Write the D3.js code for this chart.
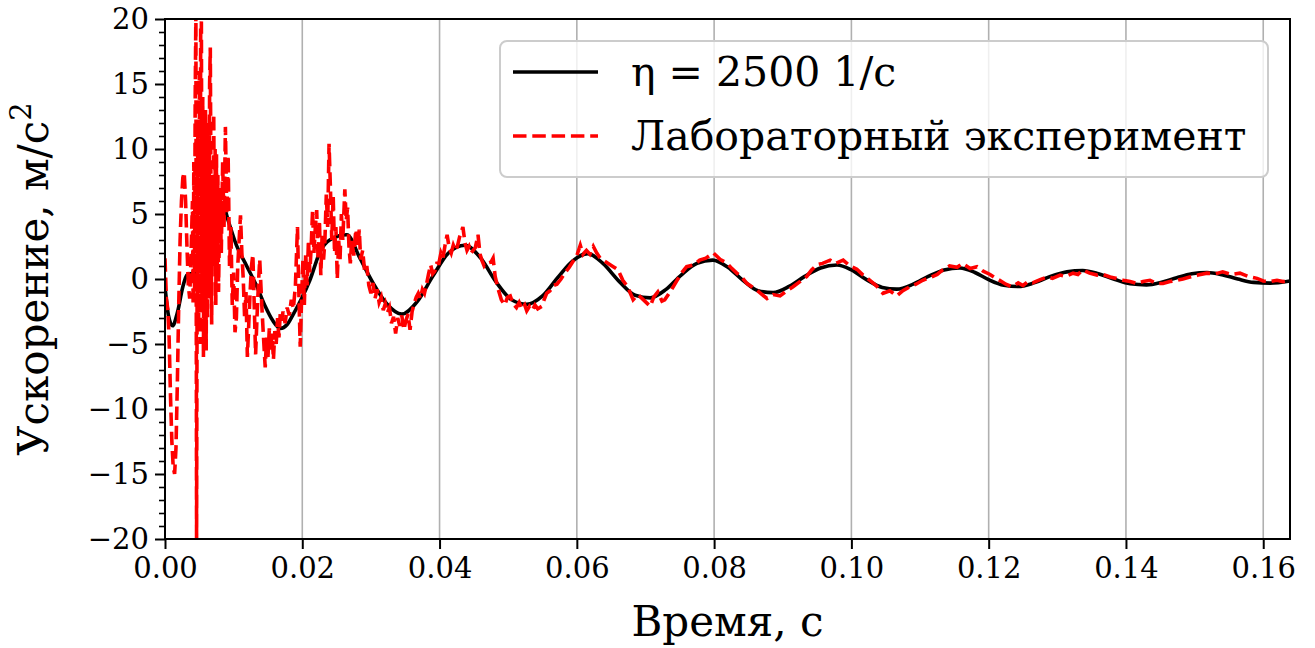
<!DOCTYPE html>
<html>
<head>
<meta charset="utf-8">
<script src="https://cdn.jsdelivr.net/npm/d3@7"></script>
<style>
  html, body { margin: 0; padding: 0; background: #fff; }
  svg { display: block; }
</style>
</head>
<body>
<div id="chart"></div>
<script>

const xTicks = [0, 0.02, 0.04, 0.06, 0.08, 0.10, 0.12, 0.14, 0.16]
const yTicks = [-20, -15, -10, -5, 0, 5, 10, 15, 20]
const legendLabels = ["η = 2500 1/с", "Лабораторный эксперимент"]

// [время, с ; ускорение, м/с²]
const modelPoints = [
  [0, -0.6], [0.0005, -2.8], [0.0011, -3.6], [0.0018, -2.6], [0.0026, -0.6], [0.0032, 0.3],
  [0.0045, 0.5], [0.0060, 0.8], [0.0072, 1.3], [0.0074, 3.6], [0.0078, 4.4], [0.0085, 5.6],
  [0.0092, 4.5], [0.0104, 2.6], [0.0119, 1.0], [0.0134, -0.6], [0.0146, -2.1], [0.0157, -3.2],
  [0.0168, -3.8], [0.0178, -3.5], [0.0187, -2.7], [0.0199, -1.5], [0.0211, -0.1], [0.0226, 2.1],
  [0.0240, 3.0], [0.0265, 3.4], [0.0284, 1.6], [0.0303, -0.3], [0.0323, -1.9], [0.0345, -2.7],
  [0.0368, -1.7], [0.0390, 0.2], [0.0413, 2.0], [0.0437, 2.6], [0.0460, 1.6], [0.0482, -0.2],
  [0.0505, -1.6], [0.0527, -1.95], [0.0550, -1.3], [0.0572, 0.1], [0.0594, 1.4], [0.0616, 1.95],
  [0.0638, 1.2], [0.0662, -0.2], [0.0685, -1.25], [0.0707, -1.45], [0.0730, -0.8], [0.0752, 0.3],
  [0.0775, 1.2], [0.0798, 1.45], [0.0820, 0.9], [0.0842, -0.1], [0.0864, -0.9], [0.0886, -1.05],
  [0.0910, -0.55], [0.0932, 0.2], [0.0955, 0.85], [0.0979, 1.08], [0.1000, 0.7], [0.1022, -0.05],
  [0.1045, -0.65], [0.1066, -0.78], [0.1090, -0.4], [0.1112, 0.2], [0.1135, 0.7], [0.1158, 0.85],
  [0.1180, 0.5], [0.1200, -0.05], [0.1222, -0.48], [0.1243, -0.58], [0.1266, -0.3], [0.1290, 0.2],
  [0.1314, 0.55], [0.1337, 0.65], [0.1360, 0.4], [0.1383, -0.02], [0.1406, -0.37], [0.1430, -0.45],
  [0.1452, -0.25], [0.1474, 0.1], [0.1496, 0.4], [0.1518, 0.5], [0.1540, 0.33], [0.1563, 0.0],
  [0.1586, -0.26], [0.1610, -0.32], [0.1639, -0.15],
]

const expPoints = [
  [0.0000, 1.6], [0.0002, -1.5], [0.0004, -2.3], [0.0006, -4.5], [0.0008, -9.0], [0.0010, -12.5],
  [0.0012, -14.5], [0.0014, -15.0], [0.0016, -13.0], [0.0018, -8.0], [0.0020, -2.0], [0.0022, 3.0],
  [0.0024, 6.0], [0.0026, 7.8], [0.0028, 8.2], [0.0030, 6.0], [0.0032, 2.5], [0.0034, -0.5],
  [0.0036, -1.5], [0.0038, 2.0], [0.0040, 6.0], [0.0041, -2.0], [0.0042, 9.0], [0.0043, -1.0],
  [0.0044, 14.0], [0.0045, 20.5], [0.0046, -20.5], [0.0047, 5.0], [0.0048, 12.0], [0.0049, -4.0],
  [0.0050, 16.0], [0.0051, -5.0], [0.0052, 19.5], [0.0053, 19.8], [0.0054, -2.0], [0.0055, 14.0],
  [0.0056, -6.0], [0.0057, 10.0], [0.0058, -4.0], [0.0059, 13.0], [0.0060, -5.5], [0.0061, 9.0],
  [0.0062, -3.0], [0.0063, 12.0], [0.0064, -1.5], [0.0065, 15.0], [0.0066, 17.8], [0.0067, 6.0],
  [0.0068, -3.5], [0.0069, 8.0], [0.0070, 1.0], [0.0071, 12.7], [0.0072, 3.0], [0.0073, 10.0],
  [0.0074, -2.0], [0.0075, 9.6], [0.0076, 0.5], [0.0077, 8.0], [0.0078, -1.0], [0.0080, 7.0],
  [0.0082, 2.0], [0.0084, 9.0], [0.0086, 4.0], [0.0088, 11.7], [0.0090, 5.0], [0.0092, 9.5],
  [0.0094, 1.0], [0.0096, 4.0], [0.0098, -2.0], [0.0100, 0.5], [0.0102, -4.1], [0.0104, -3.0],
  [0.0106, 1.0], [0.0108, 3.0], [0.0110, 4.9], [0.0112, 2.0], [0.0114, 0.0], [0.0116, -3.0],
  [0.0118, -1.0], [0.0120, -6.0], [0.0122, -3.5], [0.0124, -1.0], [0.0126, 1.0], [0.0128, 1.9],
  [0.0130, -2.0], [0.0132, -5.8], [0.0134, -3.0], [0.0136, -0.5], [0.0138, 1.5], [0.0141, -2.0],
  [0.0143, -4.0], [0.0146, -6.8], [0.0148, -4.5], [0.0150, -6.0], [0.0152, -3.8], [0.0154, -5.5],
  [0.0156, -4.2], [0.0158, -6.2], [0.0160, -4.0], [0.0162, -5.0], [0.0164, -3.0], [0.0166, -4.5],
  [0.0168, -2.6], [0.0170, -3.2], [0.0172, -2.5], [0.0175, -3.4], [0.0178, -2.2], [0.0181, -2.8],
  [0.0184, -1.6], [0.0187, -2.3], [0.0190, -0.5], [0.0193, 4.0], [0.0195, -1.0], [0.0197, -5.2],
  [0.0199, -1.5], [0.0201, 1.5], [0.0203, -2.0], [0.0205, 2.0], [0.0207, -0.5], [0.0209, 3.0],
  [0.0211, 0.5], [0.0213, 2.5], [0.0215, 5.3], [0.0217, 2.0], [0.0219, 4.0], [0.0221, 5.3],
  [0.0223, 1.5], [0.0225, 4.5], [0.0227, 0.3], [0.0229, 3.5], [0.0231, 1.5], [0.0233, 3.0],
  [0.0235, 6.5], [0.0237, 4.0], [0.0239, 10.4], [0.0241, 7.0], [0.0243, 3.0], [0.0245, 6.5],
  [0.0247, 2.0], [0.0249, 4.0], [0.0251, 0.0], [0.0253, 3.0], [0.0255, 1.5], [0.0257, 5.0],
  [0.0259, 3.0], [0.0262, 6.9], [0.0264, 4.5], [0.0266, 5.5], [0.0268, 2.5], [0.0270, 1.2],
  [0.0272, 3.0], [0.0275, 1.8], [0.0278, 3.8], [0.0281, 2.5], [0.0283, 3.8], [0.0285, 1.5],
  [0.0288, 2.2], [0.0291, 0.5], [0.0294, 1.0], [0.0297, -0.5], [0.0300, -1.1], [0.0303, -0.3],
  [0.0306, -1.5], [0.0309, -0.8], [0.0312, -1.8], [0.0315, -1.4], [0.0318, -2.4], [0.0321, -1.9],
  [0.0324, -2.6], [0.0327, -2.2], [0.0330, -3.4], [0.0333, -2.9], [0.0336, -4.2], [0.0339, -3.0],
  [0.0342, -3.6], [0.0345, -2.8], [0.0348, -3.9], [0.0351, -3.2], [0.0354, -2.7], [0.0357, -3.9],
  [0.0360, -2.5], [0.0363, -1.9], [0.0366, -1.4], [0.0369, -1.1], [0.0372, -1.5], [0.0375, -0.8],
  [0.0378, -1.1], [0.0381, -0.4], [0.0384, 0.4], [0.0387, 1.1], [0.0390, 0.4], [0.0393, 0.6],
  [0.0396, 1.2], [0.0399, 1.2], [0.0402, 2.0], [0.0405, 1.6], [0.0408, 2.6], [0.0411, 3.4],
  [0.0414, 2.4], [0.0417, 2.0], [0.0420, 2.6], [0.0423, 2.2], [0.0426, 2.5], [0.0429, 3.2],
  [0.0434, 4.0], [0.0437, 2.8], [0.0440, 2.2], [0.0443, 2.5], [0.0446, 2.0], [0.0452, 2.4],
  [0.0456, 3.4], [0.0459, 1.9], [0.0462, 1.4], [0.0465, 1.0], [0.0468, 1.2], [0.0475, 1.3],
  [0.0478, 1.6], [0.0481, 0.2], [0.0485, -0.7], [0.0490, -1.6], [0.0495, -2.0], [0.0499, -1.4],
  [0.0503, -1.3], [0.0507, -1.9], [0.0512, -2.2], [0.0516, -1.8], [0.0520, -2.3], [0.0524, -2.0],
  [0.0527, -2.45], [0.0531, -2.1], [0.0535, -2.4], [0.0539, -2.0], [0.0543, -2.3], [0.0549, -2.1],
  [0.0553, -1.5], [0.0556, -1.1], [0.0561, -0.9], [0.0566, -0.5], [0.0571, -0.4], [0.0577, 0.0],
  [0.0583, 0.5], [0.0589, 0.9], [0.0595, 1.4], [0.0600, 1.8], [0.0605, 2.6], [0.0609, 1.9],
  [0.0614, 2.2], [0.0619, 1.9], [0.0624, 2.5], [0.0629, 2.0], [0.0634, 1.6], [0.0653, 0.95],
  [0.0660, 0.7], [0.0667, -0.1], [0.0674, -0.6], [0.0682, -1.6], [0.0689, -1.2], [0.0696, -1.55],
  [0.0707, -2.1], [0.0712, -1.4], [0.0718, -1.0], [0.0724, -1.7], [0.0728, -1.6], [0.0737, -0.9],
  [0.0746, -0.1], [0.0753, 0.5], [0.0760, 0.95], [0.0771, 1.1], [0.0779, 1.45], [0.0788, 1.6],
  [0.0799, 2.0], [0.0809, 1.5], [0.0819, 1.2], [0.0826, 0.8], [0.0833, 0.45], [0.0841, 0.1],
  [0.0848, -0.35], [0.0855, -0.6], [0.0862, -0.85], [0.0870, -1.2], [0.0877, -1.5], [0.0886, -1.2],
  [0.0896, -1.3], [0.0906, -0.9], [0.0915, -0.6], [0.0925, -0.2], [0.0935, 0.2], [0.0942, 0.7],
  [0.0950, 1.1], [0.0958, 1.2], [0.0969, 1.45], [0.0977, 1.2], [0.0988, 1.45], [0.0998, 1.0],
  [0.1008, 0.75], [0.1017, 0.3], [0.1027, -0.1], [0.1036, -0.5], [0.1046, -1.1], [0.1056, -0.9],
  [0.1066, -1.3], [0.1075, -0.9], [0.1085, -0.6], [0.1094, -0.4], [0.1104, -0.1], [0.1114, 0.1],
  [0.1125, 0.35], [0.1133, 0.7], [0.1143, 1.0], [0.1154, 0.9], [0.1162, 1.2], [0.1173, 0.8],
  [0.1183, 0.95], [0.1192, 0.6], [0.1202, 0.35], [0.1209, 0.1], [0.1216, -0.1], [0.1225, -0.4],
  [0.1234, -0.6], [0.1243, -0.3], [0.1250, -0.5], [0.1257, -0.2], [0.1264, -0.3], [0.1275, -0.05],
  [0.1285, 0.15], [0.1293, 0.05], [0.1304, 0.3], [0.1312, 0.2], [0.1323, 0.45], [0.1330, 0.35],
  [0.1337, 0.7], [0.1347, 0.45], [0.1358, 0.3], [0.1366, 0.35], [0.1377, 0.15], [0.1385, 0.05],
  [0.1396, -0.1], [0.1406, -0.2], [0.1416, -0.35], [0.1425, -0.2], [0.1435, -0.1], [0.1445, -0.35],
  [0.1454, -0.35], [0.1464, -0.2], [0.1474, -0.1], [0.1483, 0.0], [0.1493, 0.15], [0.1505, 0.3],
  [0.1518, 0.45], [0.1530, 0.4], [0.1541, 0.55], [0.1553, 0.35], [0.1566, 0.45], [0.1578, 0.2],
  [0.1591, 0.05], [0.1600, -0.15], [0.1610, -0.2], [0.1620, -0.1], [0.1629, -0.2], [0.1639, -0.1],
]

const W = 1315, H = 648
const margin = { top: 19, right: 25, bottom: 109, left: 165 }
const FONT = "'DejaVu Serif', serif"

const svg = d3.select("#chart").append("svg")
  .attr("width", W).attr("height", H)
  .style("font-family", FONT)

const x = d3.scaleLinear().domain([0, 0.1639]).range([margin.left, W - margin.right])
const y = d3.scaleLinear().domain([-20, 20]).range([H - margin.bottom, margin.top])

// clip des courbes à la zone de tracé
svg.append("clipPath").attr("id", "plot-clip")
  .append("rect")
  .attr("x", x.range()[0]).attr("y", y.range()[1])
  .attr("width", x.range()[1] - x.range()[0]).attr("height", y.range()[0] - y.range()[1])

// --- grille verticale ---
svg.append("g")
  .selectAll("line").data(xTicks).join("line")
  .attr("x1", d => x(d)).attr("x2", d => x(d))
  .attr("y1", y(20)).attr("y2", y(-20))
  .attr("stroke", "#b0b0b0").attr("stroke-width", 1.6)

// --- courbes ---
const plot = svg.append("g").attr("clip-path", "url(#plot-clip)")

plot.append("path")
  .datum(modelPoints)
  .attr("d", d3.line().x(d => x(d[0])).y(d => y(d[1])).curve(d3.curveMonotoneX))
  .attr("fill", "none").attr("stroke", "#000").attr("stroke-width", 3.6)

plot.append("path")
  .datum(expPoints)
  .attr("d", d3.line().x(d => x(d[0])).y(d => y(d[1])))
  .attr("fill", "none").attr("stroke", "#ff0000").attr("stroke-width", 3.6)
  .attr("stroke-dasharray", "13.5 5.8")

// --- axes ---
const xAxis = svg.append("g")
  .attr("transform", `translate(0,${y(-20)})`)
  .call(d3.axisBottom(x).tickValues(xTicks).tickFormat(d3.format(".2f")).tickSize(10).tickPadding(8))
const yAxis = svg.append("g")
  .attr("transform", `translate(${x(0)},0)`)
  .call(d3.axisLeft(y).tickValues(yTicks).tickSize(10).tickPadding(6))
// petites graduations (pas de 1)
svg.append("g")
  .attr("transform", `translate(${x(0)},0)`)
  .call(d3.axisLeft(y).tickValues(d3.range(-20, 21, 1).filter(v => v % 5 !== 0)).tickSize(6).tickFormat(""))
  .call(s => s.select(".domain").remove())
  .selectAll("line").attr("stroke-width", 1.6)

for (const ax of [xAxis, yAxis]) {
  ax.select(".domain").remove()
  ax.selectAll(".tick line").attr("stroke-width", 2)
  ax.selectAll(".tick text").attr("font-size", 29).attr("font-family", FONT).attr("fill", "#000")
}

// cadre
svg.append("rect")
  .attr("x", x(0)).attr("y", y(20))
  .attr("width", x(0.1639) - x(0)).attr("height", y(-20) - y(20))
  .attr("fill", "none").attr("stroke", "#000").attr("stroke-width", 2)

// --- libellés des axes ---
svg.append("text")
  .attr("x", (x.range()[0] + x.range()[1]) / 2).attr("y", 636)
  .attr("text-anchor", "middle").attr("font-size", 42)
  .text("Время, с")

const yl = svg.append("text")
  .attr("transform", `translate(48,${(y.range()[0] + y.range()[1]) / 2}) rotate(-90)`)
  .attr("text-anchor", "middle").attr("font-size", 42)
yl.append("tspan").text("Ускорение, м/с")
yl.append("tspan").attr("font-size", 29).attr("dy", -17).text("2")

// --- légende ---
const leg = svg.append("g")
leg.append("rect")
  .attr("x", 500).attr("y", 41).attr("width", 768).attr("height", 136).attr("rx", 7)
  .attr("fill", "#fff").attr("fill-opacity", 0.8)
  .attr("stroke", "#cccccc").attr("stroke-width", 2)

const legendStyles = [
  { stroke: "#000", dash: null },
  { stroke: "#ff0000", dash: "13.5 5.8" },
]
legendLabels.forEach((label, i) => {
  const ly = 72 + i * 64
  leg.append("line")
    .attr("x1", 513).attr("x2", 598).attr("y1", ly).attr("y2", ly)
    .attr("stroke", legendStyles[i].stroke).attr("stroke-width", 3.6)
    .attr("stroke-dasharray", legendStyles[i].dash)
  leg.append("text")
    .attr("x", 631).attr("y", ly + 14)
    .attr("font-size", 41)
    .text(label)
})
</script>
</body>
</html>
